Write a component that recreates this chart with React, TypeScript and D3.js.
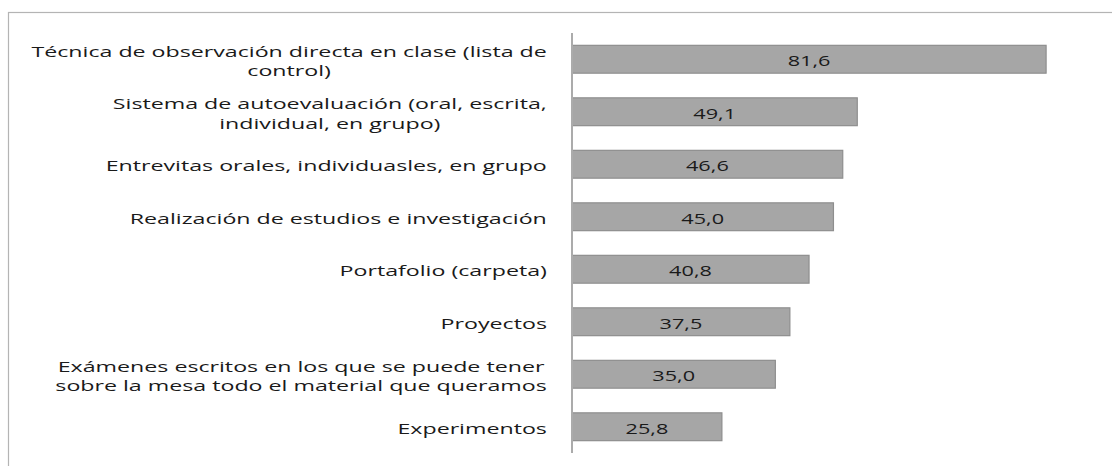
import { useEffect, useRef } from "react";
import * as d3 from "d3";

// Categories (top to bottom) with their wrapped label lines
const CATEGORIES = [
  "Técnica de observación directa en clase (lista de control)",
  "Sistema de autoevaluación (oral, escrita, individual, en grupo)",
  "Entrevitas orales, individuasles, en grupo",
  "Realización de estudios e investigación",
  "Portafolio (carpeta)",
  "Proyectos",
  "Exámenes escritos en los que se puede tener sobre la mesa todo el material que queramos",
  "Experimentos",
];
const LABEL_LINES = [
  ["Técnica de observación directa en clase (lista de", "control)"],
  ["Sistema de autoevaluación (oral, escrita,", "individual, en grupo)"],
  ["Entrevitas orales, individuasles, en grupo"],
  ["Realización de estudios e investigación"],
  ["Portafolio (carpeta)"],
  ["Proyectos"],
  ["Exámenes escritos en los que se puede tener", "sobre la mesa todo el material que queramos"],
  ["Experimentos"],
];
const VALUES = [81.6, 49.1, 46.6, 45.0, 40.8, 37.5, 35.0, 25.8];

const W = 1112;
const H = 466;
const FONT = "'Open Sans', sans-serif";
const LABEL_STRETCH = 1.6; // source image is horizontally stretched
const VALUE_STRETCH = 1.55;

export default function App() {
  const ref = useRef<SVGSVGElement | null>(null);

  useEffect(() => {
    const el = ref.current;
    if (!el) return;
    const svg = d3.select(el);
    svg.selectAll("*").remove();

    const axisX = 572;
    const y = d3.scaleBand<string>().domain(CATEGORIES).range([33, 453]).paddingInner(0.47).paddingOuter(0.235);
    const x = d3.scaleLinear().domain([0, 100]).range([axisX, axisX + 581]);

    // outer frame (runs past the right/bottom edge)
    svg.append("rect")
      .attr("x", 8.5).attr("y", 12.5)
      .attr("width", W + 50).attr("height", H + 50)
      .attr("fill", "none").attr("stroke", "#b4b4b4").attr("stroke-width", 1.2);

    svg.append("g")
      .selectAll("rect")
      .data(VALUES)
      .join("rect")
      .attr("x", x(0))
      .attr("y", (_, i) => y(CATEGORIES[i])!)
      .attr("width", (d) => x(d) - x(0))
      .attr("height", y.bandwidth())
      .attr("fill", "#a6a6a6")
      .attr("stroke", "#8e8e8e")
      .attr("stroke-width", 1.2);

    svg.append("line")
      .attr("x1", axisX).attr("x2", axisX)
      .attr("y1", 33).attr("y2", 453)
      .attr("stroke", "#ababab").attr("stroke-width", 2);

    // category labels: block right-aligned, lines centred within the block
    const lineH = 19.5;
    const labelRight = 547;
    LABEL_LINES.forEach((lines, i) => {
      const cy = y(CATEGORIES[i])! + y.bandwidth() / 2 + 1.5;
      const g = svg.append("g");
      const texts = lines.map((ln, j) =>
        g.append("text")
          .attr("x", 0)
          .attr("y", cy + (j - (lines.length - 1) / 2) * lineH)
          .attr("text-anchor", "middle")
          .attr("dominant-baseline", "central")
          .attr("font-family", FONT)
          .attr("font-size", 14.5)
          .attr("fill", "#1a1a1a")
          .text(ln)
      );
      const maxW = d3.max(texts, (t) => (t.node() as SVGTextElement).getComputedTextLength()) ?? 0;
      g.attr("transform", `translate(${labelRight - (maxW * LABEL_STRETCH) / 2},0) scale(${LABEL_STRETCH},1)`);
    });

    // value labels
    const fmt = (v: number) => v.toFixed(1).replace(".", ",");
    VALUES.forEach((v, i) => {
      const cy = y(CATEGORIES[i])! + y.bandwidth() / 2 + 1;
      const cx = (x(0) + x(v)) / 2;
      svg.append("text")
        .attr("transform", `translate(${cx},${cy}) scale(${VALUE_STRETCH},1)`)
        .attr("text-anchor", "middle")
        .attr("dominant-baseline", "central")
        .attr("font-family", FONT)
        .attr("font-size", 14)
        .attr("fill", "#1a1a1a")
        .text(fmt(v));
    });
  }, []);

  return (
    <svg
      ref={ref}
      width={W}
      height={H}
      style={{ position: "absolute", left: 0, top: 0, background: "#fff" }}
    />
  );
}
